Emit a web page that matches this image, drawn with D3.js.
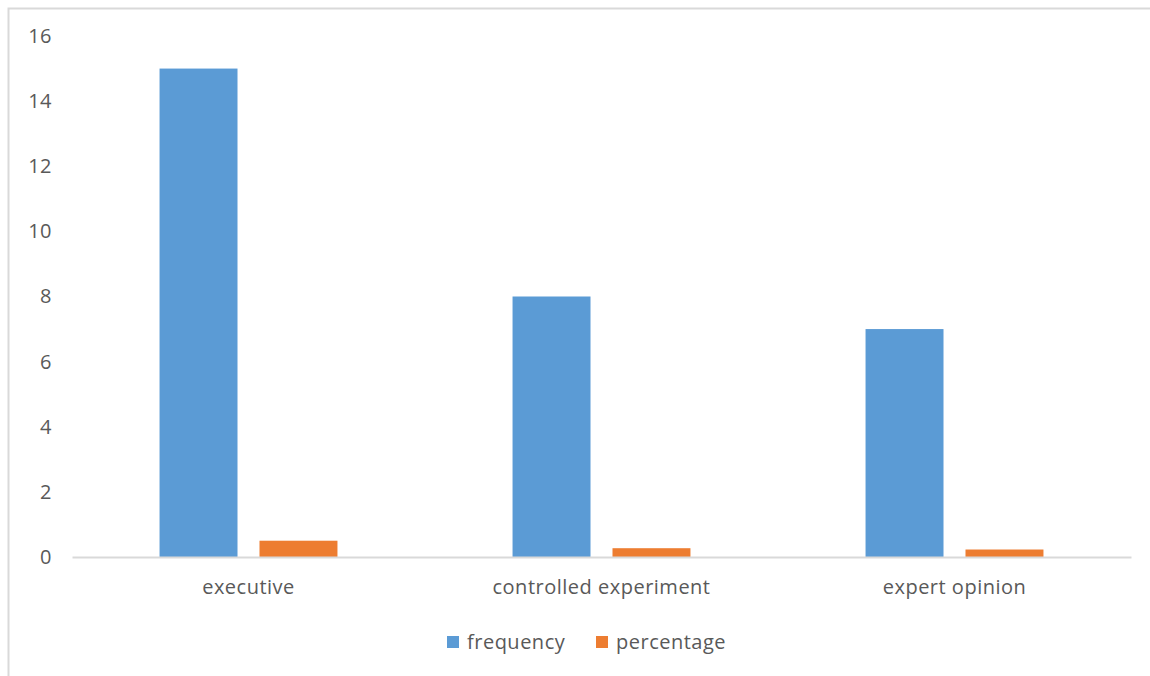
<!DOCTYPE html>
<html>
<head>
<meta charset="utf-8">
<script src="https://cdn.jsdelivr.net/npm/d3@7"></script>
<style>
  html, body { margin: 0; padding: 0; background: #fff; }
  svg { display: block; }
  text { font-family: "Segoe UI", "Open Sans", "Noto Sans", sans-serif; fill: #595959; }
</style>
</head>
<body>
<script>
// Study categories and the two measured series
const categories = ["executive", "controlled experiment", "expert opinion"];
const seriesNames = ["frequency", "percentage"];
const frequency = [15, 8, 7];
const percentage = [0.5, 0.27, 0.23];
const yTicks = [0, 2, 4, 6, 8, 10, 12, 14, 16];
const seriesColors = ["#5B9BD5", "#ED7D31"];

const W = 1150, H = 676;
const plot = { left: 72, right: 1131, top: 36, bottom: 557 };
const FONT = '"Segoe UI", "Open Sans", "Noto Sans", sans-serif';

const svg = d3.select("body").append("svg")
  .attr("width", W).attr("height", H);

// chart frame (top and left edges visible)
svg.append("path")
  .attr("d", `M8.5,${H} L8.5,8.5 L${W},8.5`)
  .attr("fill", "none")
  .attr("stroke", "#d9d9d9")
  .attr("stroke-width", 2);

const x = d3.scaleBand().domain(categories).range([plot.left, plot.right]).padding(0);
const xInner = d3.scaleBand().domain(seriesNames)
  .range([x.bandwidth() * 0.248, x.bandwidth() * 0.752])
  .paddingInner(0.22);
const y = d3.scaleLinear().domain([0, 16]).range([plot.bottom, plot.top]);

function styleText(sel) {
  sel.style("font-size", "20px")
    .style("font-family", FONT)
    .style("letter-spacing", "0.5px")
    .attr("fill", "#595959");
}

// value axis labels
const yAxis = d3.axisLeft(y).tickValues(yTicks).tickSize(0).tickPadding(0);
const gy = svg.append("g").attr("transform", `translate(52,0)`).call(yAxis);
gy.select(".domain").remove();
gy.selectAll("text").call(styleText);

// bars
const rows = categories.map((c, i) => ({ cat: c, values: [frequency[i], percentage[i]] }));
const groups = svg.append("g").selectAll("g").data(rows).join("g")
  .attr("transform", d => `translate(${x(d.cat)},0)`);
groups.selectAll("rect")
  .data(d => d.values.map((v, j) => ({ key: seriesNames[j], v, j })))
  .join("rect")
  .attr("x", d => xInner(d.key))
  .attr("width", xInner.bandwidth())
  .attr("y", d => y(d.v))
  .attr("height", d => y(0) - y(d.v))
  .attr("fill", d => seriesColors[d.j]);

// category axis
const xAxis = d3.axisBottom(x).tickSize(0).tickPadding(23);
const gx = svg.append("g").attr("transform", `translate(0,${y(0)})`).call(xAxis);
gx.select(".domain").attr("stroke", "#d9d9d9").attr("stroke-width", 2);
gx.selectAll("text").call(styleText);

// legend
const legendX = [447, 596];
const legend = svg.append("g").selectAll("g").data(seriesNames).join("g")
  .attr("transform", (d, i) => `translate(${legendX[i]},642)`);
legend.append("rect")
  .attr("x", 0).attr("y", -6).attr("width", 12).attr("height", 12)
  .attr("fill", (d, i) => seriesColors[i]);
legend.append("text")
  .attr("x", 20).attr("dy", "0.35em")
  .call(styleText)
  .text(d => d);
</script>
</body>
</html>
